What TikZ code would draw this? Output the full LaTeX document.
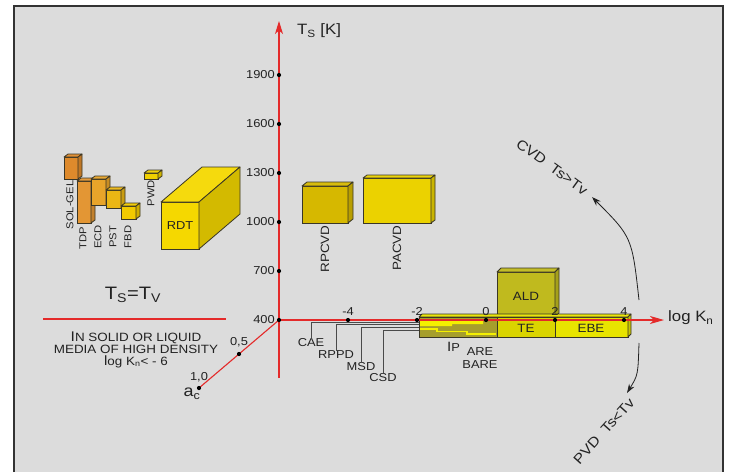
\documentclass[tikz,border=0pt]{standalone}
\usepackage{fontspec}
\setmainfont[FakeStretch=1.12]{Liberation Sans}
\usetikzlibrary{arrows.meta}
\definecolor{bg}{HTML}{DCDCDC}
\definecolor{frm}{HTML}{333333}
\definecolor{axred}{HTML}{E42A2A}
\definecolor{txt}{HTML}{222222}
\definecolor{edge}{HTML}{3A3626}
\definecolor{leadgray}{HTML}{4A4A4A}
\definecolor{cSol}{HTML}{DE8A2C}
\definecolor{cTdp}{HTML}{E39634}
\definecolor{cEcd}{HTML}{E8A42A}
\definecolor{cPst}{HTML}{EBB614}
\definecolor{cFbd}{HTML}{F2CA00}
\definecolor{cPwd}{HTML}{F0D000}
\definecolor{cRdt}{HTML}{F5D800}
\definecolor{cRpc}{HTML}{D6B800}
\definecolor{cPac}{HTML}{EBD200}
\definecolor{cAld}{HTML}{C0BA1E}
\definecolor{cIp}{HTML}{A69E2C}
\definecolor{cTe}{HTML}{DAD400}
\definecolor{cEbe}{HTML}{E8E400}
\definecolor{cStripe}{HTML}{F4F000}
\newcommand\cuboid[7]{%
  \filldraw[draw=edge, line width=0.8pt, fill=#7] (#1,#2) rectangle (#3,#4);
  \filldraw[draw=edge, line width=0.8pt, fill=#7!95!white, line join=round] (#1,#2) -- (#1+#5,#2-#6) -- (#3+#5,#2-#6) -- (#3,#2) -- cycle;
  \filldraw[draw=edge, line width=0.8pt, fill=#7!86!black, line join=round] (#3,#2) -- (#3+#5,#2-#6) -- (#3+#5,#4-#6) -- (#3,#4) -- cycle;
}
\tikzset{
  axisline/.style={draw=axred, line width=1.1pt},
  tickdot/.style={circle, fill=black, inner sep=0pt, minimum size=4.2pt},
  lbl/.style={font=\fontsize{11.5}{11.5}\selectfont, inner sep=0pt, text=txt},
  slbl/.style={font=\fontsize{10}{10}\selectfont, inner sep=0pt, text=txt},
  biglbl/.style={font=\fontsize{15}{15}\selectfont, inner sep=0pt, text=txt},
  arclbl/.style={font=\fontsize{14}{14}\selectfont, inner sep=0pt, text=txt},
  leader/.style={draw=leadgray, line width=0.8pt},
  arcarrow/.style={draw=txt, line width=0.8pt, -{Stealth[length=9pt,width=6pt]}}
}
\begin{document}
\begin{tikzpicture}[x=1pt,y=-1pt]
\useasboundingbox (0,0) rectangle (729,472);
\fill[bg] (14,6) rectangle (723,472);
\draw[frm, line width=1.4pt] (14,472) -- (14,6) -- (723,6) -- (723,472);

% ---- boxes (left cluster)
\cuboid{64}{157}{78}{179}{4}{3}{cSol}
\cuboid{77}{181}{91}{223}{4}{3}{cTdp}
\cuboid{91}{179}{106}{205}{4}{3}{cEcd}
\cuboid{106}{190}{121}{208}{4}{3}{cPst}
\cuboid{121}{206}{136}{219}{4}{3}{cFbd}
\cuboid{144}{173}{158}{179}{4}{3}{cPwd}
\cuboid{161}{202}{199}{249}{41}{35}{cRdt}
\cuboid{302}{186}{348}{223}{5}{4}{cRpc}
\cuboid{363}{178}{431}{223}{4}{3}{cPac}

\node[slbl, rotate=90] (lsol) at (70,205) {SOL-GEL};
\node[slbl, rotate=90] (ltdp) at (83,238) {TDP};
\node[slbl, rotate=90] (lecd) at (98,237) {ECD};
\node[slbl, rotate=90] (lpst) at (113,237) {PST};
\node[slbl, rotate=90] (lfbd) at (128,237) {FBD};
\node[slbl, rotate=90] (lpwd) at (151,193) {PWD};
\node[lbl] (lrdt) at (180,226) {RDT};
\node[lbl, font=\fontsize{12}{12}\selectfont, rotate=90] (lrpc) at (325,249) {RPCVD};
\node[lbl, font=\fontsize{12}{12}\selectfont, rotate=90] (lpac) at (397,248) {PACVD};

% ---- bottom bars
\cuboid{497}{272}{555}{317}{4}{4}{cAld}
\cuboid{419}{317}{628}{337}{3}{3}{cEbe}
\filldraw[draw=edge, line width=0.8pt, fill=cIp] (419,317) rectangle (497,337);
\filldraw[draw=edge, line width=0.8pt, fill=cTe] (497,317) rectangle (555,337);
\fill[cStripe] (420,320) -- (483,320) -- (483,324) -- (452,324) -- (452,326) -- (420,326) -- cycle;
\draw[cStripe, line width=1.6pt] (420,329) -- (437,329) -- (437,331.5) -- (467,331.5) -- (467,334) -- (496,334);
\node[lbl, font=\fontsize{12}{12}\selectfont] (lald) at (526,296) {ALD};
\node[lbl, font=\fontsize{12}{12}\selectfont] (lte) at (526,328) {TE};
\node[lbl, font=\fontsize{12}{12}\selectfont] (lebe) at (591,328) {EBE};

% ---- leaders
\coordinate (bl1) at (419,322.5);
\coordinate (bl2) at (419,324.7);
\coordinate (bl3) at (419,327.3);
\coordinate (bl4) at (419,330);
\node[lbl, anchor=north] (lcae) at (311,338.5) {CAE};
\node[lbl, anchor=north] (lrppd) at (336,350.5) {RPPD};
\node[lbl, anchor=north] (lmsd) at (361,362.5) {MSD};
\node[lbl, anchor=north] (lcsd) at (383,373) {CSD};
\draw[leader] (bl1) -| (lcae.north);
\draw[leader] (bl2) -| (lrppd.north);
\draw[leader] (bl3) -| (lmsd.north);
\draw[leader] (bl4) -| (lcsd.north);
\node[lbl, anchor=base west] (lip) at (447,351) {{\fontsize{13.5}{13.5}\selectfont I}P};
\node[lbl] (lare) at (480,352) {ARE};
\node[lbl] (lbare) at (480,365) {BARE};

% ---- axes
\coordinate (O) at (279,320);
\coordinate (ytop) at (279,21);
\coordinate (ybot) at (279,378);
\coordinate (xend) at (664,320);
\coordinate (ac) at (199,388);
\draw[axisline] (ybot) -- (O);
\draw[axisline, -{Stealth[length=13pt,width=8pt,inset=3.5pt]}] (O) -- (ytop);
\draw[axisline, -{Stealth[length=14pt,width=8pt,inset=4pt]}] (O) -- (xend);
\draw[axisline] (O) -- (ac);
\draw[axisline] (43,319) -- (226,319);

\node[biglbl, anchor=west] (ylab) at (297,31) {T\textsubscript{S} [K]};
\node[biglbl, anchor=west] (xlab) at (668,318) {log K\textsubscript{n}};

\foreach \v/\yy in {1900/75,1600/124,1300/173,1000/222,700/271,400/320}{
  \node[tickdot] (ty\v) at (279,\yy) {};
  \node[lbl, anchor=east] (tl\v) at (275,\yy) {\v};
}
\foreach \n/\v/\xx in {a/-4/348,b/-2/417,c/0/486,d/2/555,e/4/624}{
  \node[tickdot] (tx\n) at (\xx,320) {};
  \node[lbl, anchor=south] (txl\n) at (\xx,316) {\v};
}
\node[tickdot] (d05) at (239,354) {};
\node[tickdot] (d10) at (ac) {};
\node[lbl] (l05) at (239,342) {0,5};
\node[lbl] (l10) at (199,377) {1,0};
\node[font=\fontsize{16}{16}\selectfont, inner sep=0pt, text=txt] (lac) at (192,394) {a\textsubscript{c}};

% ---- left text
\node[font=\fontsize{18}{18}\selectfont, inner sep=0pt, text=txt] (tsv) at (133,295) {T\textsubscript{S}=T\textsubscript{V}};
\node[lbl, font=\fontsize{12}{12}\selectfont, align=center] (media) at (136,349.5)
  {{\fontsize{14}{14}\selectfont I}N SOLID OR LIQUID\\[0pt] MEDIA OF HIGH DENSITY\\[0pt] {\fontsize{13.5}{13.5}\selectfont l}og K\textsubscript{n}< - 6};

% ---- CVD / PVD arcs
\coordinate (c1) at (639,300);
\coordinate (c2) at (592,197);
\coordinate (p1) at (639,343);
\coordinate (p2) at (627,393);
\draw[arcarrow] (c1) .. controls (632,237) .. (c2);
\draw[arcarrow] (p1) .. controls (638,375) .. (p2);
\node[arclbl, rotate=-36] (cvd) at (552,167) {CVD\ \ Ts>Tv};
\node[arclbl, rotate=48] (pvd) at (604,431) {PVD\ \ Ts<Tv};
\end{tikzpicture}
\end{document}
